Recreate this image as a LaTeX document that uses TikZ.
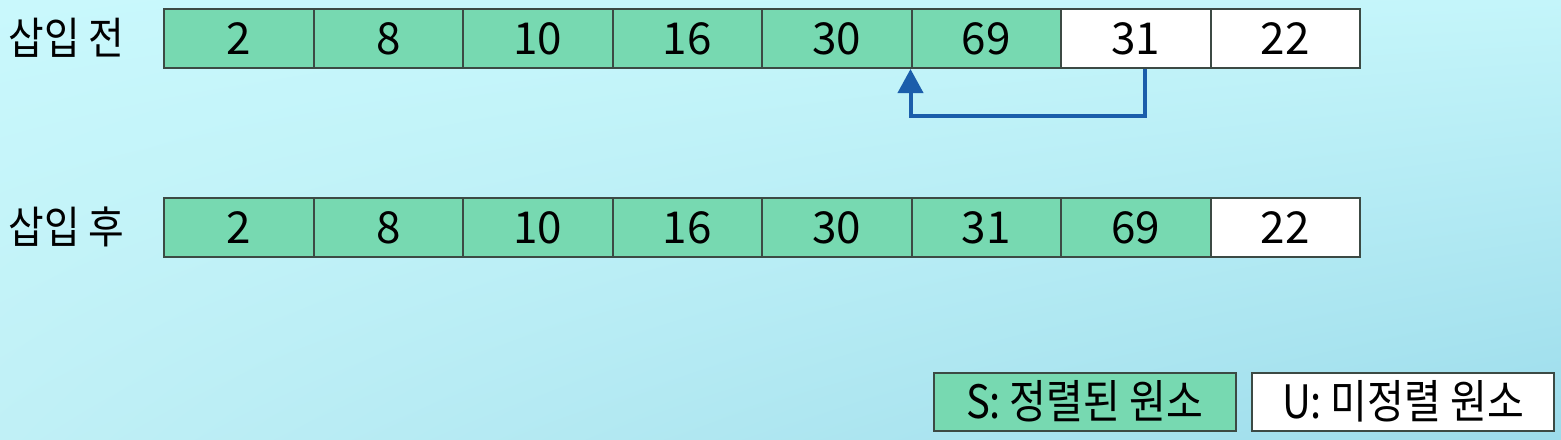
\documentclass[tikz,border=0pt]{standalone}
\usepackage{fontspec}
\setmainfont{Noto Sans CJK KR}
\newfontfamily\korfont[FakeStretch=0.88]{Noto Sans CJK KR}
\newfontfamily\legfont[FakeStretch=0.87]{Noto Sans CJK KR}
\usetikzlibrary{arrows.meta,shadings}
\definecolor{sortgreen}{HTML}{77D9B1}
\definecolor{arrowblue}{HTML}{1B5EAB}
\definecolor{cellline}{HTML}{3C4A44}
\definecolor{bgtl}{HTML}{C9F8FC}
\definecolor{bgtr}{HTML}{C4F5FA}
\definecolor{bgbl}{HTML}{C0F0F6}
\definecolor{bgbr}{HTML}{9CDCEB}
\begin{document}
\begin{tikzpicture}[x=0.5pt,y=-0.5pt,
   cell/.style={draw=cellline,line width=1pt,minimum width=74.75pt,minimum height=29.5pt,inner sep=0pt,font=\fontsize{22}{25}\selectfont},
   sorted/.style={cell,fill=sortgreen},
   unsorted/.style={cell,fill=white},
   rowlabel/.style={anchor=west,inner sep=0pt,font=\korfont\fontsize{22}{25}\selectfont},
   legend/.style={draw=cellline,line width=1pt,minimum width=151pt,minimum height=29pt,inner sep=0pt,font=\legfont\fontsize{23}{26}\selectfont},
   insert/.style={arrowblue,line width=2pt,-{Triangle[width=12.5pt,length=12pt]}}]
   \shade[upper left=bgtl,upper right=bgtr,lower left=bgbl,lower right=bgbr]
          (0,0) rectangle (1561,439);
   \useasboundingbox (0,0) rectangle (1561,439);

   \node[rowlabel] (before) at (8,38) {삽입 전};
   \foreach \x/\xtext/\xstyle in {1/2/sorted, 2/8/sorted, 3/10/sorted, 4/16/sorted, 5/30/sorted, 6/69/sorted, 7/31/unsorted, 8/22/unsorted}
   {
       \node[\xstyle] (b\x) at ({164+149.5*(\x-0.5)},38.5) {\xtext};
   }

   \node[rowlabel] (after) at (8,227) {삽입 후};
   \foreach \x/\xtext/\xstyle in {1/2/sorted, 2/8/sorted, 3/10/sorted, 4/16/sorted, 5/30/sorted, 6/31/sorted, 7/69/sorted, 8/22/unsorted}
   {
       \node[\xstyle] (a\x) at ({164+149.5*(\x-0.5)},227.5) {\xtext};
   }

   \draw[insert] ([xshift=4.5pt]b7.south) -- ++(0,47) -| (b6.south west);

   \node[legend,fill=sortgreen] (sbox) at (1084.5,401.5) {S: 정렬된 원소};
   \node[legend,fill=white] (ubox) at (1403,401.5) {U: 미정렬 원소};
\end{tikzpicture}
\end{document}
